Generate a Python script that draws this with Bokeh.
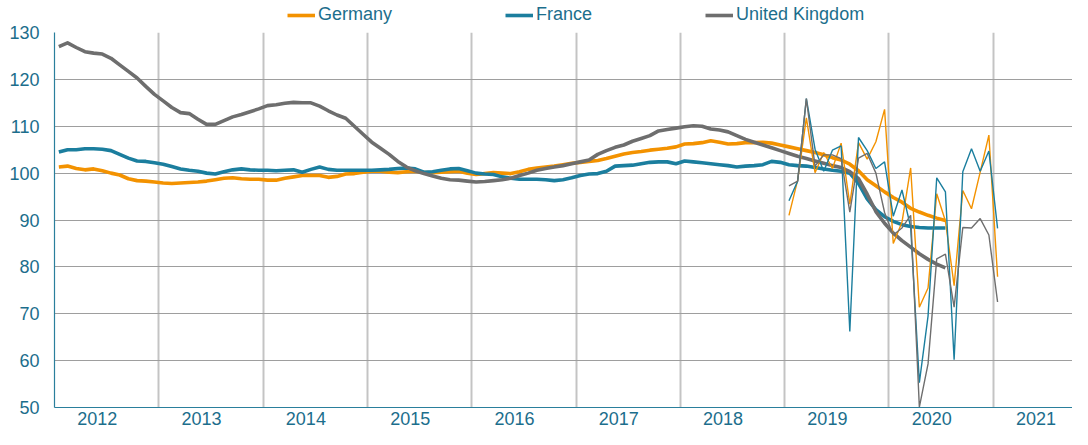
from bokeh.plotting import figure
from bokeh.models import FixedTicker, Legend, LegendItem
from bokeh.layouts import column
from bokeh.embed import file_html
from bokeh.resources import INLINE
import pandas as pd

# ---- data (index values) ----
trend_start = "2012-01"
monthly_start = "2019-01"

germany_trend = [101.3, 101.5, 101.0, 100.7, 100.9, 100.5, 100.0, 99.6, 98.8, 98.4, 98.3, 98.1,
                 97.9, 97.8, 97.9, 98.0, 98.1, 98.3, 98.6, 98.9, 99.0, 98.8, 98.7, 98.7,
                 98.5, 98.5, 98.9, 99.2, 99.5, 99.5, 99.5, 99.1, 99.3, 99.8, 99.9, 100.2,
                 100.4, 100.4, 100.2, 100.1, 100.3, 100.4, 100.2, 100.1, 100.2, 100.3, 100.4, 100.0,
                 99.7, 99.9, 100.1, 100.0, 99.9, 100.3, 100.8, 101.1, 101.3, 101.5, 101.8, 102.1,
                 102.3, 102.5, 102.7, 103.1, 103.6, 104.1, 104.4, 104.6, 104.9, 105.1, 105.3, 105.6,
                 106.2, 106.3, 106.5, 106.9, 106.6, 106.2, 106.3, 106.5, 106.5, 106.6, 106.4, 106.0,
                 105.6, 105.2, 104.8, 104.4, 103.9, 103.3, 102.8, 101.9, 100.5, 98.6, 97.3, 96.0,
                 94.8, 93.8, 92.5, 91.7, 91.0, 90.4, 89.9]
france_trend = [104.5, 105.0, 105.0, 105.2, 105.2, 105.1, 104.8, 104.0, 103.2, 102.6, 102.5, 102.2,
                101.9, 101.4, 100.9, 100.6, 100.4, 100.0, 99.8, 100.3, 100.7, 100.9, 100.7, 100.6,
                100.6, 100.5, 100.6, 100.7, 100.2, 100.8, 101.3, 100.8, 100.6, 100.6, 100.6, 100.6,
                100.6, 100.7, 100.8, 101.0, 101.1, 100.9, 100.2, 100.3, 100.6, 100.9, 101.0, 100.5,
                100.0, 99.8, 99.7, 99.2, 98.9, 98.7, 98.7, 98.7, 98.6, 98.4, 98.6, 99.0,
                99.5, 99.8, 99.9, 100.4, 101.5, 101.6, 101.7, 102.0, 102.3, 102.4, 102.4, 102.0,
                102.6, 102.4, 102.2, 102.0, 101.8, 101.6, 101.3, 101.5, 101.6, 101.8, 102.5, 102.3,
                101.8, 101.6, 101.5, 101.2, 100.9, 100.6, 100.4, 100.0, 97.8, 94.5, 92.2, 90.7,
                89.7, 89.0, 88.6, 88.4, 88.3, 88.3, 88.3]
uk_trend = [127.0, 127.8, 126.8, 125.9, 125.6, 125.4, 124.5, 123.1, 121.7, 120.3, 118.5, 116.8,
            115.4, 114.0, 112.9, 112.7, 111.5, 110.4, 110.4, 111.2, 112.0, 112.5, 113.1, 113.7,
            114.4, 114.6, 114.9, 115.1, 115.0, 115.0, 114.3, 113.3, 112.4, 111.7, 110.0, 108.3,
            106.6, 105.3, 104.0, 102.5, 101.3, 100.5, 99.9, 99.4, 98.9, 98.6, 98.5, 98.3,
            98.1, 98.2, 98.4, 98.6, 98.9, 99.5, 100.0, 100.6, 101.0, 101.3, 101.6, 102.0,
            102.4, 102.8, 104.0, 104.8, 105.5, 106.0, 106.8, 107.4, 108.0, 109.0, 109.3, 109.6,
            109.9, 110.1, 110.0, 109.4, 109.2, 108.8, 108.0, 107.2, 106.6, 106.0, 105.4, 104.8,
            104.2, 103.6, 103.1, 102.6, 102.1, 101.6, 101.2, 100.3, 98.8, 95.5, 91.8, 89.3,
            87.2, 85.6, 84.2, 82.8, 81.6, 80.6, 79.8]

germany_monthly = [91.0, 98.5, 111.8, 100.1, 104.4, 101.0, 106.4, 93.4, 106.5, 103.0, 106.7, 113.6,
                   85.0, 89.5, 101.1, 71.4, 75.5, 95.6, 89.8, 76.0, 96.3, 92.4, 100.2, 108.1, 77.9]
france_monthly = [94.1, 98.3, 115.9, 105.1, 100.4, 104.9, 105.8, 66.2, 107.6, 104.8, 101.0, 102.4,
                  90.8, 96.4, 88.5, 55.3, 69.5, 99.0, 96.0, 60.2, 100.3, 105.2, 100.4, 104.7, 88.2]
uk_monthly = [97.3, 98.3, 115.9, 101.5, 103.9, 103.9, 103.1, 91.7, 103.2, 104.2, 100.0, 91.6,
              86.8, 88.3, 91.0, 50.1, 59.3, 81.7, 82.7, 71.4, 88.4, 88.3, 90.3, 86.8, 72.5]

series_names = ["Germany", "France", "United Kingdom"]
year_labels = [2012, 2013, 2014, 2015, 2016, 2017, 2018, 2019, 2020, 2021]
y_ticks = [50, 60, 70, 80, 90, 100, 110, 120, 130]

# ---- styling ----
colors = ["#F39200", "#1B7E9E", "#6E6E6E"]
text_color = "#1C6E8C"
font = "Liberation Sans"
fsize = "18px"
thick_w = 3.6


def to_x(dates):
    return [d.year + (d.month - 0.5) / 12.0 for d in dates]


x_trend = to_x(pd.date_range(trend_start, periods=len(uk_trend), freq="MS"))
x_monthly = to_x(pd.date_range(monthly_start, periods=len(uk_monthly), freq="MS"))

# ---- main chart ----
p = figure(width=1072, height=405, output_backend="svg", toolbar_location=None,
           x_range=(2012.0, 2021.76), y_range=(50, 130),
           min_border_left=54, min_border_right=0, min_border_top=8, min_border_bottom=22)
p.outline_line_color = None
p.background_fill_color = "white"

trend_data = [germany_trend, france_trend, uk_trend]
monthly_data = [germany_monthly, france_monthly, uk_monthly]

for vals, c in zip(trend_data, colors):
    p.line(x_trend, vals, line_color=c, line_width=thick_w, line_join="round")
for vals, c in zip(monthly_data, colors):
    p.line(x_monthly, vals, line_color=c, line_width=1.4)

p.xaxis.ticker = FixedTicker(ticks=[y + 0.41 for y in year_labels])
p.xaxis.major_label_overrides = {y + 0.41: str(y) for y in year_labels}
p.yaxis.ticker = FixedTicker(ticks=y_ticks)
for ax in (p.xaxis[0], p.yaxis[0]):
    ax.major_tick_line_color = None
    ax.minor_tick_line_color = None
    ax.major_tick_out = 0
    ax.major_tick_in = 0
    ax.axis_line_color = "#2A7F9C"
    ax.axis_line_width = 1.2
    ax.major_label_text_color = text_color
    ax.major_label_text_font = font
    ax.major_label_text_font_size = fsize
p.xaxis.major_label_standoff = 4
p.yaxis.major_label_standoff = 15

p.xgrid.ticker = FixedTicker(ticks=[y for y in year_labels if y > 2012])
p.xgrid.grid_line_color = "#C4C4C4"
p.xgrid.grid_line_width = 2
p.ygrid.ticker = FixedTicker(ticks=y_ticks)
p.ygrid.grid_line_color = "#9E9E9E"
p.ygrid.grid_line_width = 1.2

# ---- legend strip on top (frame aligned with the chart's frame) ----
lf = figure(width=1072, height=24, output_backend="svg", toolbar_location=None,
            x_range=(0, 1), y_range=(0, 1), min_border=0)
lf.axis.visible = False
lf.grid.visible = False
lf.outline_line_color = None
# one off-range point per key so each renderer carries its line style for the legend swatch
key_renderers = [lf.line([-1], [-1], line_color=c, line_width=thick_w) for c in colors]
legend = Legend(items=[LegendItem(label=n, renderers=[r]) for n, r in zip(series_names, key_renderers)],
                orientation="horizontal", location=(233, -1),
                border_line_color=None, background_fill_alpha=0,
                padding=0, margin=0, spacing=113, glyph_width=28, glyph_height=18,
                label_standoff=3, label_text_font_size=fsize, label_text_color=text_color,
                label_text_font=font, label_height=18)
lf.add_layout(legend, "center")

layout = column(lf, p, spacing=0)
open("out.html", "w").write(file_html(layout, INLINE))
